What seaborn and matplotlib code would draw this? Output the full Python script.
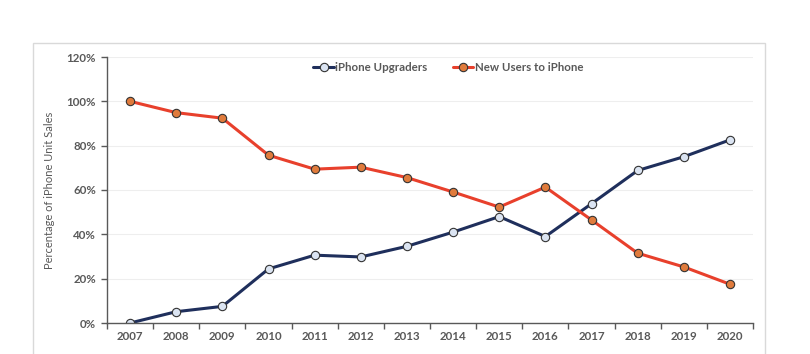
import matplotlib
matplotlib.use("Agg")
import matplotlib.pyplot as plt
import seaborn as sns
import pandas as pd
import numpy as np
from matplotlib.patches import Rectangle
from matplotlib.ticker import FuncFormatter, MultipleLocator

years = [2007, 2008, 2009, 2010, 2011, 2012, 2013, 2014, 2015, 2016, 2017, 2018, 2019, 2020]
upgraders = [0.0, 5.1, 7.5, 24.4, 30.6, 29.8, 34.6, 41.0, 48.0, 39.0, 53.8, 68.8, 75.0, 82.6]
new_users = [100.0, 94.9, 92.4, 75.7, 69.4, 70.3, 65.6, 59.1, 52.3, 61.3, 46.5, 31.5, 25.3, 17.5]
series_names = ["iPhone Upgraders", "New Users to iPhone"]

sns.set_theme(style="white")
plt.rcParams['font.family'] = ['Lato', 'DejaVu Sans']

df = pd.DataFrame({
    "Year": years * 2,
    "Value": upgraders + new_users,
    "Series": [series_names[0]] * len(years) + [series_names[1]] * len(years),
})

fig = plt.figure(figsize=(8.1, 3.54), dpi=100)
ax = fig.add_axes([107/810, 1 - 323/354, (753 - 107)/810, (323 - 57)/354])

# outer chart border
fig.patches.append(Rectangle((33/810, -0.2), (765 - 33)/810, 0.2 + (1 - 43/354),
                             transform=fig.transFigure, fill=False, edgecolor="#d9d9d9", lw=1.0))

line_colors = {"iPhone Upgraders": "#1f2f5c", "New Users to iPhone": "#e8402c"}
face_colors = {"iPhone Upgraders": "#dbe4f2", "New Users to iPhone": "#e07b3c"}

for name in series_names:
    sub = df[df["Series"] == name]
    sns.lineplot(data=sub, x="Year", y="Value", ax=ax, color=line_colors[name], lw=2.2,
                 marker="o", markersize=6, markerfacecolor=face_colors[name],
                 markeredgecolor="#333333", markeredgewidth=0.8, label=name)

ax.set_xlim(2006.5, 2020.5)
ax.set_ylim(0, 120)
ax.yaxis.set_major_locator(MultipleLocator(20))
ax.yaxis.set_major_formatter(FuncFormatter(lambda v, p: f"{int(round(v))}%"))
ax.set_xticks(years)
ax.set_xticks(np.arange(2006.5, 2021, 1.0), minor=True)
ax.tick_params(axis="x", which="major", length=0, pad=6, labelsize=8.3, labelcolor="#595959")
ax.tick_params(axis="x", which="minor", length=4, width=1, color="#595959", direction="out", bottom=True)
ax.tick_params(axis="y", which="major", length=4, width=1, color="#595959", direction="out", left=True,
               labelsize=8.3, labelcolor="#595959", pad=4)
for lbl in ax.get_xticklabels() + ax.get_yticklabels():
    lbl.set_fontweight("bold")

ax.grid(axis="y", color="#eeeeee", lw=0.8)
ax.grid(axis="x", visible=False)
for s in ["top", "right"]:
    ax.spines[s].set_visible(False)
for s in ["left", "bottom"]:
    ax.spines[s].set_color("#595959")
    ax.spines[s].set_linewidth(1.0)

ax.set_xlabel("")
ax.set_ylabel("Percentage of iPhone Unit Sales", fontsize=8, color="#595959", labelpad=8)

leg = ax.legend(loc="upper center", bbox_to_anchor=(0.528, 1.02), ncol=2, frameon=False,
                handlelength=1.8, handletextpad=0.1, columnspacing=2.2,
                prop={"size": 8.3, "weight": "bold"})
for t in leg.get_texts():
    t.set_color("#595959")

fig.savefig("out.png", dpi=100)
